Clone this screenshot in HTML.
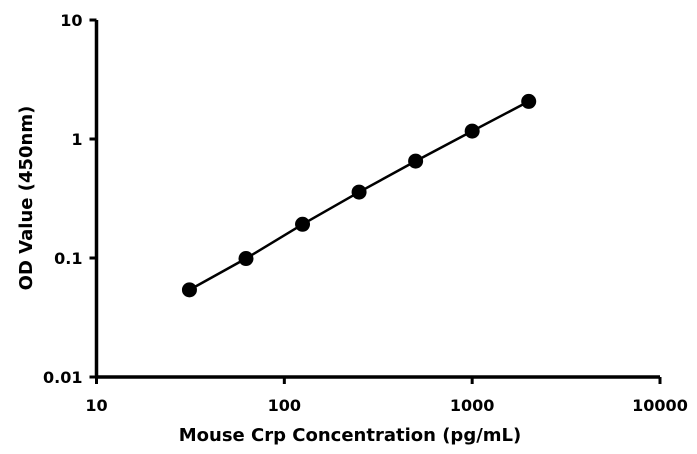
<!DOCTYPE html>
<html><head><meta charset="utf-8"><style>
html,body{margin:0;padding:0;background:#fff;}
svg{display:block;font-family:"DejaVu Sans","Liberation Sans",sans-serif;}
</style></head><body>
<svg id="chart" width="697" height="454" viewBox="0 0 697 454"></svg>
<script>
const xValues=[31.25,62.5,125,250,500,1000,2000];
const yValues=[0.054,0.099,0.192,0.358,0.652,1.165,2.07];
const xTicks=[10,100,1000,10000];
const xTickLabels=["10","100","1000","10000"];
const yTicks=[0.01,0.1,1,10];
const yTickLabels=["0.01","0.1","1","10"];
const svg=document.getElementById('chart');
const NS='http://www.w3.org/2000/svg';
const X0=96.5,X1=660,Y0=377,Y1=20;
function xs(v){return X0+(Math.log10(v)-1)/3*(X1-X0);}
function ys(v){return Y0-(Math.log10(v)+2)/3*(Y0-Y1);}
function mk(t,a,p){const e=document.createElementNS(NS,t);for(const k in a)e.setAttribute(k,a[k]);(p||svg).appendChild(e);return e;}
let e;
e=mk('line',{x1:X0,y1:Y1,x2:X0,y2:Y0+1.5,stroke:'#000','stroke-width':3.5});


e=mk('line',{x1:X0-1.5,y1:Y0,x2:X1,y2:Y0,stroke:'#000','stroke-width':3.5});


yTicks.forEach((v,i)=>{const y=ys(v);
e=mk('line',{x1:X0-7,y1:y,x2:X0,y2:y,stroke:'#000','stroke-width':3});


e=mk('text',{x:X0-14,y:y+6,'text-anchor':'end','font-size':16,'font-weight':'bold'});e.textContent=yTickLabels[i];


});
xTicks.forEach((v,i)=>{const x=xs(v);
e=mk('line',{x1:x,y1:Y0,x2:x,y2:Y0+7,stroke:'#000','stroke-width':3});


e=mk('text',{x:x,y:Y0+34,'text-anchor':'middle','font-size':16,'font-weight':'bold'});e.textContent=xTickLabels[i];


});
e=mk('polyline',{points:xValues.map((v,i)=>xs(v)+','+ys(yValues[i])).join(' '),fill:'none',stroke:'#000','stroke-width':2.5});


xValues.forEach((v,i)=>{
e=mk('circle',{cx:xs(v),cy:ys(yValues[i]),r:7.5,fill:'#000'});


});
e=mk('text',{x:350,y:441,'text-anchor':'middle','font-size':18,'font-weight':'bold'});e.textContent='Mouse Crp Concentration (pg/mL)';


e=mk('text',{x:0,y:0,'text-anchor':'middle','font-size':18,'font-weight':'bold',transform:'translate(32,198) rotate(-90)'});e.textContent='OD Value (450nm)';


</script>
</body></html>
